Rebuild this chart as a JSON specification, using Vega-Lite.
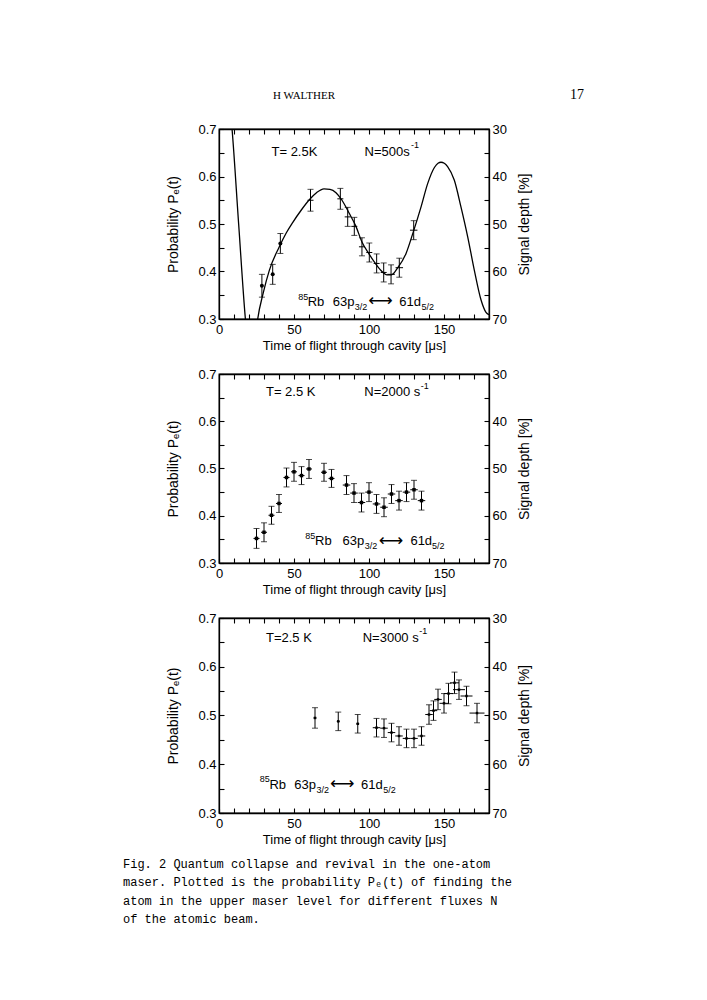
{
  "$schema": "https://vega.github.io/schema/vega-lite/v6.json",
  "background": "white",
  "padding": {"left": 122, "top": 88, "right": 10, "bottom": 10},
  "title": {"text": "17", "anchor": "end", "font": "Liberation Serif", "fontSize": 14, "fontWeight": "normal", "color": "black", "dx": 52, "dy": 13, "offset": 0},
  "spacing": 14,
  "config": {
    "font": "Liberation Sans",
    "view": {"stroke": "black", "strokeWidth": 1.3},
    "axis": {
      "labelFont": "Liberation Sans", "titleFont": "Liberation Sans",
      "labelFontSize": 13, "titleFontSize": 13, "titleFontWeight": "normal",
      "labelColor": "black", "titleColor": "black",
      "domainColor": "black", "domainWidth": 1.3,
      "tickColor": "black", "tickWidth": 1.1,
      "grid": false, "labelOverlap": false, "labelFlush": false
    },
    "title": {"font": "Liberation Serif", "fontWeight": "normal", "color": "black"}
  },
  "datasets": {
    "p1": [
      {"t": 28.6, "P": 0.370, "e": 0.024, "xe": 0},
      {"t": 35.8, "P": 0.394, "e": 0.021, "xe": 0},
      {"t": 40.9, "P": 0.459, "e": 0.021, "xe": 0},
      {"t": 61.0, "P": 0.550, "e": 0.023, "xe": 2},
      {"t": 80.9, "P": 0.553, "e": 0.022, "xe": 2},
      {"t": 85.8, "P": 0.515, "e": 0.020, "xe": 2},
      {"t": 90.2, "P": 0.495, "e": 0.019, "xe": 2},
      {"t": 95.3, "P": 0.452, "e": 0.019, "xe": 2},
      {"t": 100.2, "P": 0.440, "e": 0.020, "xe": 2},
      {"t": 105.1, "P": 0.417, "e": 0.020, "xe": 2},
      {"t": 109.8, "P": 0.398, "e": 0.020, "xe": 2},
      {"t": 114.7, "P": 0.394, "e": 0.020, "xe": 2.5},
      {"t": 120.2, "P": 0.408, "e": 0.020, "xe": 2.5},
      {"t": 129.8, "P": 0.487, "e": 0.020, "xe": 2.5}
    ],
    "c1": [
      {"t": 7.0, "P": 0.76}, {"t": 8.7, "P": 0.70}, {"t": 13.1, "P": 0.50}, {"t": 17.6, "P": 0.30},
      {"t": 19.5, "P": 0.24}, {"t": 21.5, "P": 0.22}, {"t": 23.5, "P": 0.24}, {"t": 25.8, "P": 0.30},
      {"t": 29.5, "P": 0.355}, {"t": 33.6, "P": 0.403}, {"t": 40.2, "P": 0.452}, {"t": 45.0, "P": 0.482},
      {"t": 49.1, "P": 0.503}, {"t": 55.0, "P": 0.530}, {"t": 60.2, "P": 0.551}, {"t": 65.0, "P": 0.566},
      {"t": 70.0, "P": 0.574}, {"t": 74.0, "P": 0.573}, {"t": 78.0, "P": 0.566}, {"t": 82.0, "P": 0.550},
      {"t": 86.9, "P": 0.522}, {"t": 91.3, "P": 0.495}, {"t": 95.3, "P": 0.462}, {"t": 100.0, "P": 0.437},
      {"t": 104.0, "P": 0.418}, {"t": 108.0, "P": 0.402}, {"t": 112.0, "P": 0.393}, {"t": 115.0, "P": 0.393},
      {"t": 119.0, "P": 0.407}, {"t": 124.7, "P": 0.438}, {"t": 129.6, "P": 0.484}, {"t": 134.7, "P": 0.536},
      {"t": 139.1, "P": 0.585}, {"t": 143.6, "P": 0.619}, {"t": 146.0, "P": 0.628}, {"t": 148.0, "P": 0.630},
      {"t": 150.2, "P": 0.628}, {"t": 152.4, "P": 0.621},
      {"t": 156.9, "P": 0.592}, {"t": 161.3, "P": 0.536}, {"t": 165.8, "P": 0.473}, {"t": 170.2, "P": 0.403},
      {"t": 174.7, "P": 0.340}, {"t": 178.0, "P": 0.314}, {"t": 180.0, "P": 0.309}
    ],
    "p2": [
      {"t": 25, "P": 0.352, "e": 0.021, "xe": 2}, {"t": 30, "P": 0.365, "e": 0.020, "xe": 2},
      {"t": 35, "P": 0.401, "e": 0.019, "xe": 2}, {"t": 40, "P": 0.426, "e": 0.019, "xe": 2},
      {"t": 45, "P": 0.481, "e": 0.020, "xe": 2}, {"t": 50, "P": 0.493, "e": 0.020, "xe": 2},
      {"t": 55, "P": 0.485, "e": 0.019, "xe": 2}, {"t": 60, "P": 0.499, "e": 0.020, "xe": 2},
      {"t": 70, "P": 0.492, "e": 0.019, "xe": 2}, {"t": 75, "P": 0.479, "e": 0.019, "xe": 2},
      {"t": 85, "P": 0.465, "e": 0.020, "xe": 2.5}, {"t": 90, "P": 0.448, "e": 0.020, "xe": 2.5},
      {"t": 95, "P": 0.428, "e": 0.020, "xe": 2.5}, {"t": 100, "P": 0.450, "e": 0.020, "xe": 2.5},
      {"t": 105, "P": 0.425, "e": 0.020, "xe": 2.5}, {"t": 110, "P": 0.418, "e": 0.020, "xe": 2.5},
      {"t": 115, "P": 0.446, "e": 0.020, "xe": 2.5}, {"t": 120, "P": 0.432, "e": 0.020, "xe": 2.5},
      {"t": 125, "P": 0.450, "e": 0.020, "xe": 2.5}, {"t": 130, "P": 0.455, "e": 0.020, "xe": 2.5},
      {"t": 135, "P": 0.432, "e": 0.020, "xe": 2.5}
    ],
    "p3": [
      {"t": 64, "P": 0.495, "e": 0.021, "xe": 1}, {"t": 79.5, "P": 0.488, "e": 0.019, "xe": 1},
      {"t": 92.5, "P": 0.483, "e": 0.019, "xe": 1}, {"t": 105, "P": 0.475, "e": 0.019, "xe": 2.5},
      {"t": 110, "P": 0.474, "e": 0.019, "xe": 2.5}, {"t": 115, "P": 0.465, "e": 0.019, "xe": 2.5},
      {"t": 120, "P": 0.458, "e": 0.019, "xe": 2.5}, {"t": 125, "P": 0.453, "e": 0.019, "xe": 2.5},
      {"t": 130, "P": 0.453, "e": 0.019, "xe": 2.5}, {"t": 135, "P": 0.458, "e": 0.019, "xe": 2.5},
      {"t": 140, "P": 0.502, "e": 0.020, "xe": 2.5}, {"t": 143, "P": 0.510, "e": 0.020, "xe": 2.5},
      {"t": 146, "P": 0.533, "e": 0.021, "xe": 2.5}, {"t": 150, "P": 0.525, "e": 0.020, "xe": 3},
      {"t": 153, "P": 0.545, "e": 0.021, "xe": 3}, {"t": 157, "P": 0.567, "e": 0.022, "xe": 3},
      {"t": 160, "P": 0.553, "e": 0.020, "xe": 4}, {"t": 165, "P": 0.540, "e": 0.020, "xe": 4},
      {"t": 172, "P": 0.505, "e": 0.020, "xe": 5}
    ],
    "a1": [
      {"t": 35, "P": 0.652, "txt": "T= 2.5K", "role": "main"},
      {"t": 97, "P": 0.652, "txt": "N=500s", "role": "main"},
      {"t": 128, "P": 0.666, "txt": "-1", "role": "small"},
      {"t": 52.8, "P": 0.347, "txt": "85", "role": "small"},
      {"t": 59.1, "P": 0.336, "txt": "Rb", "role": "main"},
      {"t": 75.8, "P": 0.336, "txt": "63p", "role": "main"},
      {"t": 90.5, "P": 0.325, "txt": "3/2", "role": "small"},
      {"t": 99.5, "P": 0.337, "txt": "⟷", "role": "arrow"},
      {"t": 120.2, "P": 0.336, "txt": "61d", "role": "main"},
      {"t": 135, "P": 0.325, "txt": "5/2", "role": "small"}
    ],
    "a2": [
      {"t": 31.3, "P": 0.661, "txt": "T= 2.5 K", "role": "main"},
      {"t": 96.9, "P": 0.661, "txt": "N=2000 s", "role": "main"},
      {"t": 134.5, "P": 0.674, "txt": "-1", "role": "small"},
      {"t": 57.5, "P": 0.357, "txt": "85", "role": "small"},
      {"t": 64, "P": 0.346, "txt": "Rb", "role": "main"},
      {"t": 82.4, "P": 0.346, "txt": "63p", "role": "main"},
      {"t": 97.2, "P": 0.335, "txt": "3/2", "role": "small"},
      {"t": 106.5, "P": 0.347, "txt": "⟷", "role": "arrow"},
      {"t": 127.6, "P": 0.346, "txt": "61d", "role": "main"},
      {"t": 142, "P": 0.335, "txt": "5/2", "role": "small"}
    ],
    "a3": [
      {"t": 31.3, "P": 0.660, "txt": "T=2.5 K", "role": "main"},
      {"t": 95.8, "P": 0.660, "txt": "N=3000 s", "role": "main"},
      {"t": 133.5, "P": 0.673, "txt": "-1", "role": "small"},
      {"t": 27.2, "P": 0.370, "txt": "85", "role": "small"},
      {"t": 33.6, "P": 0.358, "txt": "Rb", "role": "main"},
      {"t": 50.2, "P": 0.358, "txt": "63p", "role": "main"},
      {"t": 65, "P": 0.347, "txt": "3/2", "role": "small"},
      {"t": 74, "P": 0.359, "txt": "⟷", "role": "arrow"},
      {"t": 94.7, "P": 0.358, "txt": "61d", "role": "main"},
      {"t": 109.5, "P": 0.347, "txt": "5/2", "role": "small"}
    ]
  },
  "vconcat": [
    {
      "width": 270,
      "height": 190,
      "title": {"text": "H WALTHER", "anchor": "start", "frame": "group", "dx": 54, "offset": 22, "fontSize": 11, "font": "Liberation Serif", "fontWeight": "normal"},
      "resolve": {"axis": {"x": "independent", "y": "independent"}},
      "layer": [
        {
          "data": {"name": "p1"},
          "mark": {"type": "errorbar", "thickness": 1, "color": "black", "ticks": {"size": 6, "thickness": 1, "color": "black"}},
          "encoding": {
            "x": {"field": "t", "type": "quantitative", "scale": {"domain": [0, 180], "nice": false},
              "axis": {"orient": "bottom", "values": [0, 10, 20, 30, 40, 50, 60, 70, 80, 90, 100, 110, 120, 130, 140, 150, 160, 170, 180], "labelExpr": "datum.value % 50 == 0 ? datum.label : ''", "tickSize": -5, "labelPadding": 9, "title": "Time of flight through cavity [μs]", "titlePadding": 3}},
            "y": {"field": "P", "type": "quantitative", "scale": {"domain": [0.3, 0.7], "nice": false, "zero": false},
              "axis": {"orient": "left", "values": [0.3, 0.35, 0.4, 0.45, 0.5, 0.55, 0.6, 0.65, 0.7], "labelExpr": "round(datum.value*20) % 2 == 0 ? format(datum.value, '.1f') : ''", "tickSize": -5, "labelPadding": 8, "title": "Probability Pₑ(t)", "titleFontSize": 14, "titlePadding": 17}},
            "yError": {"field": "e"}
          }
        },
        {
          "data": {"name": "p1"},
          "mark": {"type": "errorbar", "thickness": 1, "color": "black"},
          "encoding": {
            "x": {"field": "t", "type": "quantitative", "scale": {"domain": [0, 180], "nice": false},
              "axis": {"orient": "top", "values": [0, 10, 20, 30, 40, 50, 60, 70, 80, 90, 100, 110, 120, 130, 140, 150, 160, 170, 180], "labels": false, "tickSize": -5, "title": null}},
            "y": {"field": "P", "type": "quantitative", "scale": {"domain": [0.3, 0.7], "nice": false, "zero": false},
              "axis": {"orient": "right", "values": [0.3, 0.35, 0.4, 0.45, 0.5, 0.55, 0.6, 0.65, 0.7], "labelExpr": "round(datum.value*20) % 2 == 0 ? format(100 - 100*datum.value, '.0f') : ''", "tickSize": -5, "labelPadding": 8, "title": "Signal depth [%]", "titleAngle": 270, "titleBaseline": "top", "titleFontSize": 14, "titlePadding": 11}},
            "xError": {"field": "xe"}
          }
        },
        {
          "data": {"name": "p1"},
          "transform": [{"filter": "datum.xe == 0"}],
          "mark": {"type": "circle", "color": "black", "opacity": 1, "size": 16},
          "encoding": {
            "x": {"field": "t", "type": "quantitative", "axis": null},
            "y": {"field": "P", "type": "quantitative", "axis": null}
          }
        },
        {
          "data": {"name": "c1"},
          "mark": {"type": "line", "clip": true, "color": "black", "strokeWidth": 1.3, "interpolate": "monotone"},
          "encoding": {
            "x": {"field": "t", "type": "quantitative", "axis": null},
            "y": {"field": "P", "type": "quantitative", "axis": null}
          }
        },
        {
          "data": {"name": "a1"},
          "transform": [{"filter": "datum.role == 'main'"}],
          "mark": {"type": "text", "align": "left", "baseline": "middle", "font": "Liberation Sans", "fontSize": 13, "color": "black"},
          "encoding": {
            "x": {"field": "t", "type": "quantitative", "axis": null},
            "y": {"field": "P", "type": "quantitative", "axis": null},
            "text": {"field": "txt"}
          }
        },
        {
          "data": {"name": "a1"},
          "transform": [{"filter": "datum.role == 'small'"}],
          "mark": {"type": "text", "align": "left", "baseline": "middle", "font": "Liberation Sans", "fontSize": 9, "color": "black"},
          "encoding": {
            "x": {"field": "t", "type": "quantitative", "axis": null},
            "y": {"field": "P", "type": "quantitative", "axis": null},
            "text": {"field": "txt"}
          }
        },
        {
          "data": {"name": "a1"},
          "transform": [{"filter": "datum.role == 'arrow'"}],
          "mark": {"type": "text", "align": "left", "baseline": "middle", "font": "DejaVu Sans", "fontSize": 17, "color": "black"},
          "encoding": {
            "x": {"field": "t", "type": "quantitative", "axis": null},
            "y": {"field": "P", "type": "quantitative", "axis": null},
            "text": {"field": "txt"}
          }
        }
      ]
    },
    {
      "width": 270,
      "height": 189,
      "resolve": {"axis": {"x": "independent", "y": "independent"}},
      "layer": [
        {
          "data": {"name": "p2"},
          "mark": {"type": "errorbar", "thickness": 1, "color": "black", "ticks": {"size": 6, "thickness": 1, "color": "black"}},
          "encoding": {
            "x": {"field": "t", "type": "quantitative", "scale": {"domain": [0, 180], "nice": false},
              "axis": {"orient": "bottom", "values": [0, 10, 20, 30, 40, 50, 60, 70, 80, 90, 100, 110, 120, 130, 140, 150, 160, 170, 180], "labelExpr": "datum.value % 50 == 0 ? datum.label : ''", "tickSize": -5, "labelPadding": 9, "title": "Time of flight through cavity [μs]", "titlePadding": 3}},
            "y": {"field": "P", "type": "quantitative", "scale": {"domain": [0.3, 0.7], "nice": false, "zero": false},
              "axis": {"orient": "left", "values": [0.3, 0.35, 0.4, 0.45, 0.5, 0.55, 0.6, 0.65, 0.7], "labelExpr": "round(datum.value*20) % 2 == 0 ? format(datum.value, '.1f') : ''", "tickSize": -5, "labelPadding": 8, "title": "Probability Pₑ(t)", "titleFontSize": 14, "titlePadding": 17}},
            "yError": {"field": "e"}
          }
        },
        {
          "data": {"name": "p2"},
          "mark": {"type": "errorbar", "thickness": 1, "color": "black"},
          "encoding": {
            "x": {"field": "t", "type": "quantitative", "scale": {"domain": [0, 180], "nice": false},
              "axis": {"orient": "top", "values": [0, 10, 20, 30, 40, 50, 60, 70, 80, 90, 100, 110, 120, 130, 140, 150, 160, 170, 180], "labels": false, "tickSize": -5, "title": null}},
            "y": {"field": "P", "type": "quantitative", "scale": {"domain": [0.3, 0.7], "nice": false, "zero": false},
              "axis": {"orient": "right", "values": [0.3, 0.35, 0.4, 0.45, 0.5, 0.55, 0.6, 0.65, 0.7], "labelExpr": "round(datum.value*20) % 2 == 0 ? format(100 - 100*datum.value, '.0f') : ''", "tickSize": -5, "labelPadding": 8, "title": "Signal depth [%]", "titleAngle": 270, "titleBaseline": "top", "titleFontSize": 14, "titlePadding": 11}},
            "xError": {"field": "xe"}
          }
        },
        {
          "data": {"name": "p2"},
          "mark": {"type": "square", "color": "black", "opacity": 1, "size": 12},
          "encoding": {
            "x": {"field": "t", "type": "quantitative", "axis": null},
            "y": {"field": "P", "type": "quantitative", "axis": null}
          }
        },
        {
          "data": {"name": "a2"},
          "transform": [{"filter": "datum.role == 'main'"}],
          "mark": {"type": "text", "align": "left", "baseline": "middle", "font": "Liberation Sans", "fontSize": 13, "color": "black"},
          "encoding": {
            "x": {"field": "t", "type": "quantitative", "axis": null},
            "y": {"field": "P", "type": "quantitative", "axis": null},
            "text": {"field": "txt"}
          }
        },
        {
          "data": {"name": "a2"},
          "transform": [{"filter": "datum.role == 'small'"}],
          "mark": {"type": "text", "align": "left", "baseline": "middle", "font": "Liberation Sans", "fontSize": 9, "color": "black"},
          "encoding": {
            "x": {"field": "t", "type": "quantitative", "axis": null},
            "y": {"field": "P", "type": "quantitative", "axis": null},
            "text": {"field": "txt"}
          }
        },
        {
          "data": {"name": "a2"},
          "transform": [{"filter": "datum.role == 'arrow'"}],
          "mark": {"type": "text", "align": "left", "baseline": "middle", "font": "DejaVu Sans", "fontSize": 17, "color": "black"},
          "encoding": {
            "x": {"field": "t", "type": "quantitative", "axis": null},
            "y": {"field": "P", "type": "quantitative", "axis": null},
            "text": {"field": "txt"}
          }
        }
      ]
    },
    {
      "width": 270,
      "height": 195,
      "title": {
        "text": ["Fig. 2 Quantum collapse and revival in the one-atom", "maser. Plotted is the probability Pₑ(t) of finding the", "atom in the upper maser level for different fluxes N", "of the atomic beam."],
        "orient": "bottom", "anchor": "start", "frame": "group", "dx": -96, "offset": 13,
        "font": "Liberation Mono", "fontSize": 12, "fontWeight": "normal", "lineHeight": 18.3, "baseline": "top"
      },
      "resolve": {"axis": {"x": "independent", "y": "independent"}},
      "layer": [
        {
          "data": {"name": "p3"},
          "mark": {"type": "errorbar", "thickness": 1, "color": "black", "ticks": {"size": 6, "thickness": 1, "color": "black"}},
          "encoding": {
            "x": {"field": "t", "type": "quantitative", "scale": {"domain": [0, 180], "nice": false},
              "axis": {"orient": "bottom", "values": [0, 10, 20, 30, 40, 50, 60, 70, 80, 90, 100, 110, 120, 130, 140, 150, 160, 170, 180], "labelExpr": "datum.value % 50 == 0 ? datum.label : ''", "tickSize": -5, "labelPadding": 9, "title": "Time of flight through cavity [μs]", "titlePadding": 3}},
            "y": {"field": "P", "type": "quantitative", "scale": {"domain": [0.3, 0.7], "nice": false, "zero": false},
              "axis": {"orient": "left", "values": [0.3, 0.35, 0.4, 0.45, 0.5, 0.55, 0.6, 0.65, 0.7], "labelExpr": "round(datum.value*20) % 2 == 0 ? format(datum.value, '.1f') : ''", "tickSize": -5, "labelPadding": 8, "title": "Probability Pₑ(t)", "titleFontSize": 14, "titlePadding": 17}},
            "yError": {"field": "e"}
          }
        },
        {
          "data": {"name": "p3"},
          "mark": {"type": "errorbar", "thickness": 1, "color": "black"},
          "encoding": {
            "x": {"field": "t", "type": "quantitative", "scale": {"domain": [0, 180], "nice": false},
              "axis": {"orient": "top", "values": [0, 10, 20, 30, 40, 50, 60, 70, 80, 90, 100, 110, 120, 130, 140, 150, 160, 170, 180], "labels": false, "tickSize": -5, "title": null}},
            "y": {"field": "P", "type": "quantitative", "scale": {"domain": [0.3, 0.7], "nice": false, "zero": false},
              "axis": {"orient": "right", "values": [0.3, 0.35, 0.4, 0.45, 0.5, 0.55, 0.6, 0.65, 0.7], "labelExpr": "round(datum.value*20) % 2 == 0 ? format(100 - 100*datum.value, '.0f') : ''", "tickSize": -5, "labelPadding": 8, "title": "Signal depth [%]", "titleAngle": 270, "titleBaseline": "top", "titleFontSize": 14, "titlePadding": 11}},
            "xError": {"field": "xe"}
          }
        },
        {
          "data": {"name": "p3"},
          "mark": {"type": "square", "color": "black", "opacity": 1, "size": 6},
          "encoding": {
            "x": {"field": "t", "type": "quantitative", "axis": null},
            "y": {"field": "P", "type": "quantitative", "axis": null}
          }
        },
        {
          "data": {"name": "a3"},
          "transform": [{"filter": "datum.role == 'main'"}],
          "mark": {"type": "text", "align": "left", "baseline": "middle", "font": "Liberation Sans", "fontSize": 13, "color": "black"},
          "encoding": {
            "x": {"field": "t", "type": "quantitative", "axis": null},
            "y": {"field": "P", "type": "quantitative", "axis": null},
            "text": {"field": "txt"}
          }
        },
        {
          "data": {"name": "a3"},
          "transform": [{"filter": "datum.role == 'small'"}],
          "mark": {"type": "text", "align": "left", "baseline": "middle", "font": "Liberation Sans", "fontSize": 9, "color": "black"},
          "encoding": {
            "x": {"field": "t", "type": "quantitative", "axis": null},
            "y": {"field": "P", "type": "quantitative", "axis": null},
            "text": {"field": "txt"}
          }
        },
        {
          "data": {"name": "a3"},
          "transform": [{"filter": "datum.role == 'arrow'"}],
          "mark": {"type": "text", "align": "left", "baseline": "middle", "font": "DejaVu Sans", "fontSize": 17, "color": "black"},
          "encoding": {
            "x": {"field": "t", "type": "quantitative", "axis": null},
            "y": {"field": "P", "type": "quantitative", "axis": null},
            "text": {"field": "txt"}
          }
        }
      ]
    }
  ]
}
